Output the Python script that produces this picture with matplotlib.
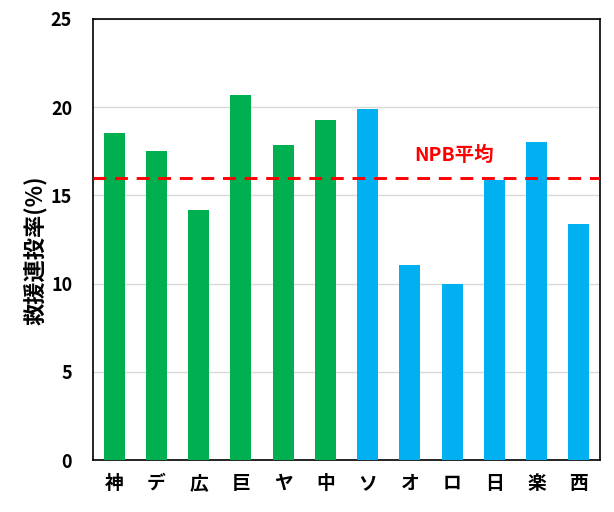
import matplotlib
matplotlib.use("Agg")
import matplotlib.pyplot as plt

plt.rcParams['font.family'] = ['Noto Sans CJK JP', 'DejaVu Sans']

teams = ['神', 'デ', '広', '巨', 'ヤ', '中', 'ソ', 'オ', 'ロ', '日', '楽', '西']
values = [18.55, 17.5, 14.17, 20.7, 17.85, 19.28, 19.9, 11.05, 9.98, 15.87, 18.03, 13.38]
league = ['C'] * 6 + ['P'] * 6
npb_avg = 16.0
colors = {'C': '#00B050', 'P': '#00B0F0'}

fig = plt.figure(figsize=(6.14, 5.12), dpi=100)
ax = fig.add_axes([93/614, 1 - 460/512, (600-93)/614, (460-19)/512])

x = list(range(len(teams)))
ax.bar(x, values, width=0.5, color=[colors[l] for l in league], zorder=3)
ax.axhline(npb_avg, color='#FF0000', lw=2.1, dashes=(4.4, 3), zorder=4)
ax.text(8.05, npb_avg + 0.7, 'NPB平均', color='#FF0000', fontsize=14,
        fontweight='bold', ha='center', va='bottom')

ax.set_xlim(-0.5, 11.5)
ax.set_ylim(0, 25)
ax.set_yticks([0, 5, 10, 15, 20, 25])
ax.set_xticks(x)
ax.set_xticklabels(teams, fontsize=13.5, fontweight='bold')
for lab in ax.get_yticklabels():
    lab.set_fontsize(13)
    lab.set_fontweight('bold')
ax.tick_params(axis='y', length=0, pad=15)
ax.tick_params(axis='x', length=0, pad=10)
ax.grid(axis='y', color='#D9D9D9', lw=1, zorder=0)
for s in ax.spines.values():
    s.set_color('black')
    s.set_linewidth(1.2)
ax.set_ylabel('救援連投率(%)', fontsize=16, fontweight='bold')
ax.yaxis.set_label_coords(-0.09, 0.476)

fig.savefig('out.png', dpi=100)
